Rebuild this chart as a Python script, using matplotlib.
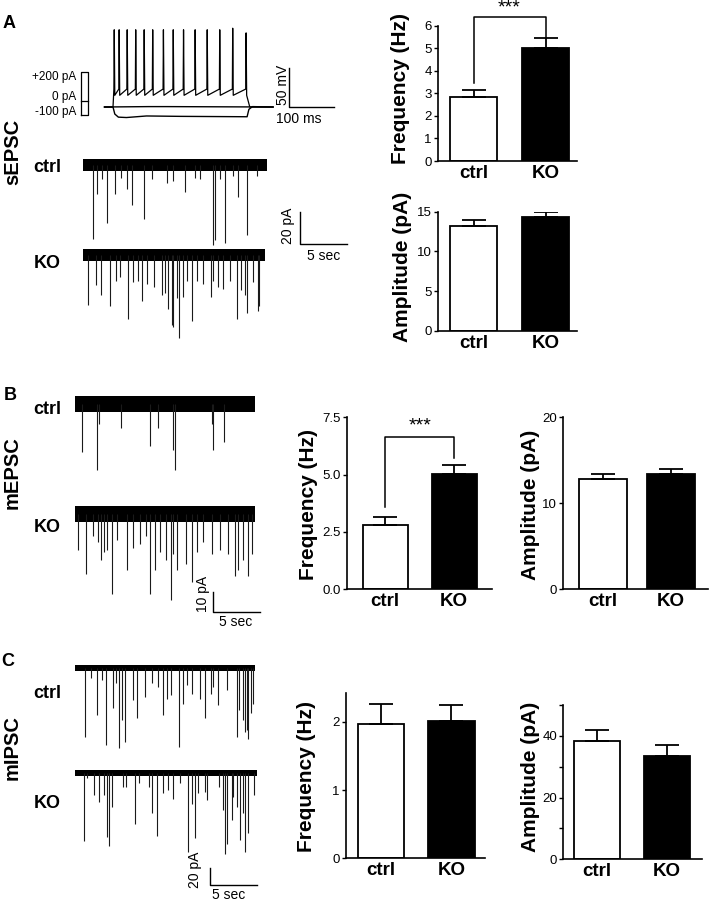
import matplotlib
matplotlib.use("Agg")
import matplotlib.pyplot as plt
import numpy as np

plt.rcParams['font.family'] = ['Liberation Sans', 'DejaVu Sans']

# ---- data ----
categories = ["ctrl", "KO"]

# A: current-clamp steps (pA) and voltage responses
step_levels_pa = [200, 0, -100]
step_labels = ["+200 pA", "0 pA", "-100 pA"]
spike_times_ms = [2, 13, 31, 50, 69, 88, 112, 134, 157, 183, 210, 238, 267, 297]
spike_peaks_mv = [34, 34, 34, 34, 34, 34, 34, 34, 34, 34, 34, 34, 36, 30]
rest_mv = -65
threshold_mv = -42
ahp_mv = -50
step_end_ms = 300
hyper_t_ms = [-19, 0, 4, 12, 30, 75, 150, 300, 304, 312, 358]
hyper_v_mv = [-65, -65, -74, -78, -78.5, -76.5, -77, -77.5, -68, -64.5, -65]
zero_t_ms = [-19, 80, 120, 358]
zero_v_mv = [-65, -64.5, -64.5, -65]

# A: sEPSC events (s, pA)
sepsc_ctrl_t = [1.1, 1.46, 1.99, 2.59, 3.4, 4.0, 4.65, 5.25, 6.52, 7.3, 8.97, 9.6, 10.8,
                11.9, 12.45, 13.87, 14.04, 14.6, 15.1, 16.0, 16.45, 17.4, 18.5]
sepsc_ctrl_amp = [46, 18, 9, 36, 18, 8, 15, 25, 34, 9, 11, 10, 17, 8, 9, 50, 47, 9, 49, 7, 20, 44, 7]
sepsc_ko_t = [0.57, 1.38, 1.88, 2.87, 3.51, 3.94, 4.82, 5.35, 5.89, 6.31, 6.77, 7.59, 8.37,
              8.72, 9.08, 9.43, 9.61, 9.96, 10.2, 10.6, 11.03, 11.63, 12.16, 12.8, 13.58,
              13.87, 14.4, 14.86, 15.64, 16.42, 16.77, 17.23, 17.41, 18.12, 18.58, 18.76]
sepsc_ko_amp = [31, 19, 25, 32, 16, 14, 40, 17, 16, 29, 18, 20, 25, 24, 34, 44, 45, 27, 52, 26,
                16, 41, 16, 18, 26, 16, 20, 21, 16, 40, 22, 25, 36, 17, 35, 32]

# B: mEPSC events
mepsc_ctrl_t = [0.78, 2.31, 2.55, 4.86, 7.98, 8.86, 10.46, 10.64, 14.54, 14.71, 15.85]
mepsc_ctrl_amp = [24, 33, 10, 12, 21, 12, 23, 33, 10, 23, 19]
mepsc_ko_t = [0.35, 1.17, 1.95, 2.48, 2.77, 3.09, 3.37, 3.97, 4.5, 5.5, 6.14, 6.91, 7.55, 7.98,
              8.51, 9.04, 9.68, 10.18, 10.46, 10.88, 11.81, 12.41, 12.95, 13.65, 14.54, 15.43,
              16.31, 17.02, 17.37, 17.9, 18.44, 18.8]
mepsc_ko_amp = [18, 30, 11, 14, 23, 19, 18, 40, 13, 28, 17, 15, 11, 40, 28, 19, 23, 43, 20, 28,
                25, 34, 19, 14, 20, 18, 20, 31, 28, 23, 31, 20]

# C: mIPSC events
mipsc_ctrl_t = [1.06, 1.67, 2.31, 2.84, 3.3, 4.07, 4.36, 4.71, 4.97, 5.32, 6.14, 6.63, 7.45, 8.16,
                8.86, 9.33, 9.76, 10.21, 11.06, 11.46, 11.88, 12.41, 13.3, 13.83, 14.47, 14.71,
                15.24, 16.14, 17.2, 17.48, 17.84, 18.09, 18.27, 18.44, 18.72, 18.97]
mipsc_ctrl_amp = [81, 12, 55, 14, 91, 47, 18, 94, 61, 87, 38, 59, 34, 18, 22, 55, 36, 32, 93, 42,
                  20, 30, 36, 59, 30, 22, 44, 26, 81, 49, 61, 75, 73, 83, 53, 42]
mipsc_ko_t = [0.96, 1.24, 2.05, 2.59, 3.12, 3.37, 3.62, 3.97, 5.07, 5.39, 6.38, 6.81, 7.9, 8.16,
              8.69, 9.33, 9.93, 10.46, 11.17, 11.99, 12.41, 12.77, 13.12, 13.83, 14.01, 15.35,
              15.78, 15.96, 16.2, 16.67, 16.84, 17.2, 17.55, 17.84, 18.12, 18.44, 19.07]
mipsc_ko_amp = [80, 6, 26, 34, 26, 75, 86, 40, 16, 16, 60, 12, 16, 47, 74, 24, 20, 31, 12, 93,
                36, 77, 24, 22, 32, 16, 44, 95, 83, 55, 28, 40, 79, 47, 93, 71, 26]

# bar graphs: mean and SEM (ctrl, KO)
freq_a_mean, freq_a_sem = [2.82, 5.02], [0.33, 0.42]
amp_a_mean, amp_a_sem = [13.2, 14.38], [0.76, 0.62]
freq_b_mean, freq_b_sem = [2.8, 5.02], [0.37, 0.40]
amp_b_mean, amp_b_sem = [12.86, 13.37], [0.54, 0.62]
freq_c_mean, freq_c_sem = [1.97, 2.01], [0.29, 0.23]
amp_c_mean, amp_c_sem = [38.2, 33.5], [3.8, 3.6]

# ---- figure helpers (pixel layout) ----
W, H = 711, 900
fig = plt.figure(figsize=(7.11, 9.0), dpi=100)


def px_axes(L, T, R, B):
    return fig.add_axes([L / W, 1 - B / H, (R - L) / W, (B - T) / H])


def ftext(x, y, s, **kw):
    fig.text(x / W, 1 - y / H, s, **kw)


def trace_axes(L, T, R, B, x0, y0, sx, sy, v0=0.0):
    ax = px_axes(L, T, R, B)
    ax.set_xlim((L - x0) / sx, (R - x0) / sx)
    ax.set_ylim(v0 - (B - y0) / sy, v0 + (y0 - T) / sy)
    ax.set_axis_off()
    return ax


def draw_trace(ax, dur, t, amp, offset, noise):
    ax.fill_between([0, dur], offset - noise, offset + noise, color='k', lw=0)
    ax.vlines(t, offset - np.array(amp), offset, color='0.1', lw=0.8)


def scale_bar(ax, x, y, dx, dy):
    ax.plot([x, x, x + dx], [y + dy, y, y], color='k', lw=1.0, clip_on=False)


def bar_panel(L, T, R, B, xlim, width, ylim, means, sems, yticks, yticklabels, minor=None):
    ax = px_axes(L, T, R, B)
    ax.bar([0, 1], means, width=width, color=['white', 'black'], edgecolor='black',
           linewidth=1.3, zorder=2)
    ax.errorbar([0, 1], means, yerr=[[0, 0], sems], fmt='none', ecolor='black',
                elinewidth=1.3, capsize=8.3, capthick=1.3, zorder=3)
    ax.set_xlim(xlim)
    ax.set_ylim(ylim)
    for s in ['top', 'right']:
        ax.spines[s].set_visible(False)
    for s in ['left', 'bottom']:
        ax.spines[s].set_linewidth(1.2)
    ax.set_xticks([0, 1], categories, fontsize=13.5, fontweight='bold')
    ax.tick_params(axis='x', length=0, pad=3)
    ax.set_yticks(yticks, yticklabels, fontsize=9.5)
    ax.tick_params(axis='y', length=3, width=1, pad=1.5)
    if minor is not None:
        ax.set_yticks(minor, minor=True)
        ax.tick_params(axis='y', which='minor', length=3, width=1)
    return ax


bold = dict(fontweight='bold', ha='center', va='center')

# ---- panel A ----
ftext(9, 24, "A", fontsize=13, **bold)
ftext(12.5, 152, "sEPSC", fontsize=14.5, rotation=90, **bold)

# current step legend
ax = trace_axes(81, 72, 88, 115, 81, 72, 7, 43 / 300, v0=200)
ax.set_xlim(0, 1)
ax.plot([0, 1, 1, 0, 0], [min(step_levels_pa), min(step_levels_pa), max(step_levels_pa),
                          max(step_levels_pa), min(step_levels_pa)], color='k', lw=0.9,
        clip_on=False)
ax.plot([0, 1], [0, 0], color='k', lw=0.9, clip_on=False)
for yy, lab in zip([77, 97, 112], step_labels):
    ftext(76, yy, lab, fontsize=8.5, ha='right', va='center')

# voltage responses
ax = trace_axes(100, 18, 350, 125, 113, 107, 0.447, 0.78, v0=rest_mv)
vt, vv = [hyper_t_ms[0], 0], [rest_mv, rest_mv]
for ts, pk in zip(spike_times_ms, spike_peaks_mv):
    vt += [ts, ts + 0.8, ts + 2.0]
    vv += [threshold_mv, pk, ahp_mv]
vt += [step_end_ms + 6, hyper_t_ms[-1]]
vv += [rest_mv, rest_mv]
ax.plot(vt, vv, color='k', lw=0.9)
ax.plot(zero_t_ms, zero_v_mv, color='k', lw=1.0)
ax.plot(hyper_t_ms, hyper_v_mv, color='k', lw=1.0)
scale_bar(ax, 394, rest_mv, 100, 50)
ax.text(380, rest_mv + 29, "50 mV", rotation=90, ha='center', va='center', fontsize=10)
ax.text(416, rest_mv - 6, "100 ms", ha='center', va='top', fontsize=10)

# sEPSC traces
ax = trace_axes(75, 145, 360, 350, 83, 165, 9.4, 1.6)
ko_off = -(255 - 165) / 1.6
draw_trace(ax, 19.6, sepsc_ctrl_t, sepsc_ctrl_amp, 0, 4)
draw_trace(ax, 19.4, sepsc_ko_t, sepsc_ko_amp, ko_off, 4)
sx, sy = (300 - 83) / 9.4, -(244 - 165) / 1.6
scale_bar(ax, sx, sy, 5, 20)
ax.text(sx - 0.5, sy, "20 pA", rotation=90, ha='right', va='bottom', fontsize=10)
ax.text(sx + 2.5, sy - 3, "5 sec", ha='center', va='top', fontsize=10)
ftext(47.5, 168, "ctrl", fontsize=13, **bold)
ftext(47.5, 263, "KO", fontsize=13, **bold)

# bars A
ax = bar_panel(438, 25.7, 577, 161, (-0.493, 1.437), 0.653, (0, 6),
               freq_a_mean, freq_a_sem, [0, 1, 2, 3, 4, 5, 6], ["0", "1", "2", "3", "4", "5", "6"])
ax.plot([0, 0, 1, 1], [3.47, 6.37, 6.37, 5.44], color='k', lw=1.1, clip_on=False)
ax.text(0.5, 6.8, "***", ha='center', va='center', fontsize=14)
ftext(401, 89, "Frequency (Hz)", fontsize=15, rotation=90, **bold)

ax = bar_panel(438, 211.7, 577, 330.7, (-0.493, 1.437), 0.653, (0, 15),
               amp_a_mean, amp_a_sem, [0, 5, 10, 15], ["0", "5", "10", "15"])
ftext(402, 267, "Amplitude (pA)", fontsize=15, rotation=90, **bold)

# ---- panel B ----
ftext(10, 396, "B", fontsize=13, **bold)
ftext(12.5, 473, "mEPSC", fontsize=14.5, rotation=90, **bold)
ax = trace_axes(70, 385, 300, 630, 75, 404, 9.4, 2.0)
ko_off = -(514 - 404) / 2.0
draw_trace(ax, 19.15, mepsc_ctrl_t, mepsc_ctrl_amp, 0, 4)
draw_trace(ax, 19.15, mepsc_ko_t, mepsc_ko_amp, ko_off, 4)
sx, sy = (213 - 75) / 9.4, -(612 - 404) / 2.0
scale_bar(ax, sx, sy, 5, 10)
ax.text(sx - 0.3, sy, "10 pA", rotation=90, ha='right', va='bottom', fontsize=10)
ax.text(sx + 2.4, sy - 1.5, "5 sec", ha='center', va='top', fontsize=10)
ftext(47.5, 410, "ctrl", fontsize=13, **bold)
ftext(47.5, 527, "KO", fontsize=13, **bold)

ax = bar_panel(346.7, 417.3, 491.7, 589.3, (-0.558, 1.543), 0.652, (0, 7.5),
               freq_b_mean, freq_b_sem, [0, 2.5, 5, 7.5], ["0.0", "2.5", "5.0", "7.5"])
ax.plot([0, 0, 1, 1], [3.6, 6.66, 6.66, 5.71], color='k', lw=1.1, clip_on=False)
ax.text(0.5, 7.12, "***", ha='center', va='center', fontsize=14)
ftext(308, 504, "Frequency (Hz)", fontsize=15, rotation=90, **bold)

ax = bar_panel(563.3, 417.3, 708, 589.3, (-0.582, 1.54), 0.695, (0, 20),
               amp_b_mean, amp_b_sem, [0, 10, 20], ["0", "10", "20"])
ftext(530, 505, "Amplitude (pA)", fontsize=15, rotation=90, **bold)

# ---- panel C ----
ftext(8, 661, "C", fontsize=13, **bold)
ftext(12.5, 748, "mIPSC", fontsize=14.5, rotation=90, **bold)
ax = trace_axes(70, 650, 300, 900, 75, 668, 9.4, 0.85)
ko_off = -(773 - 668) / 0.85
draw_trace(ax, 19.15, mipsc_ctrl_t, mipsc_ctrl_amp, 0, 4)
draw_trace(ax, 19.4, mipsc_ko_t, mipsc_ko_amp, ko_off, 4)
sx, sy = (210 - 75) / 9.4, -(885 - 668) / 0.85
scale_bar(ax, sx, sy, 5, 20)
ax.text(sx - 0.8, sy - 3, "20 pA", rotation=90, ha='right', va='bottom', fontsize=10)
ax.text(sx + 2.0, sy - 3, "5 sec", ha='center', va='top', fontsize=10)
ftext(47.5, 694, "ctrl", fontsize=13, **bold)
ftext(47.5, 803, "KO", fontsize=13, **bold)

ax = bar_panel(346, 693.3, 485, 858.3, (-0.498, 1.479), 0.661, (0, 2.416),
               freq_c_mean, freq_c_sem, [0, 1, 2], ["0", "1", "2"])
ftext(307, 776, "Frequency (Hz)", fontsize=15, rotation=90, **bold)

ax = bar_panel(563.3, 705, 701.7, 859.3, (-0.488, 1.504), 0.662, (0, 50),
               amp_c_mean, amp_c_sem, [0, 20, 40], ["0", "20", "40"], minor=[10, 30, 50])
ftext(530, 777, "Amplitude (pA)", fontsize=15, rotation=90, **bold)

fig.savefig("out.png", dpi=100)
